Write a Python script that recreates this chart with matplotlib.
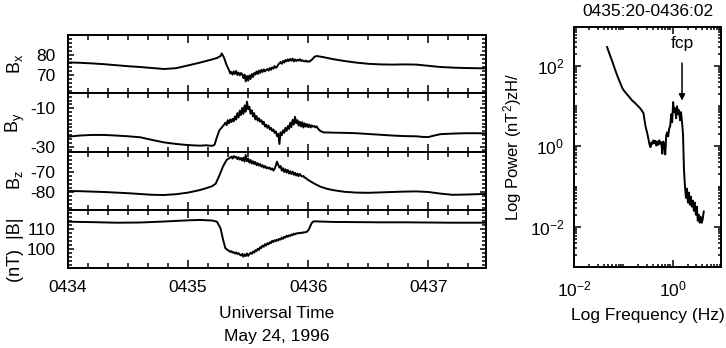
import numpy as np
import matplotlib
matplotlib.use("Agg")
import matplotlib.pyplot as plt
from matplotlib.ticker import MultipleLocator, FixedLocator, LogLocator, NullFormatter, FixedFormatter

plt.rcParams['font.family'] = ['Liberation Sans', 'DejaVu Sans']
plt.rcParams['mathtext.fontset'] = 'custom'
plt.rcParams['mathtext.rm'] = 'Liberation Sans'
plt.rcParams['mathtext.it'] = 'Liberation Sans:italic'
plt.rcParams['mathtext.bf'] = 'Liberation Sans:bold'

# ---------------- data (time in minutes after 04:34 UT) ----------------
bx_t = [0, 0.1, 0.2, 0.3, 0.4, 0.5, 0.6, 0.7, 0.8, 0.9, 1.0, 1.1, 1.15, 1.2, 1.24, 1.27, 1.28, 1.30, 1.32, 1.34, 1.35,
        1.36, 1.37, 1.38, 1.39, 1.40, 1.41, 1.42, 1.43, 1.44, 1.45,
        1.46, 1.47, 1.48, 1.49, 1.50, 1.51, 1.52, 1.53, 1.54, 1.55,
        1.56, 1.57, 1.58, 1.59, 1.60, 1.61, 1.62, 1.63, 1.64, 1.65,
        1.66, 1.67, 1.68, 1.69, 1.70, 1.71, 1.72, 1.73, 1.74, 1.75,
        1.76, 1.77, 1.78, 1.79, 1.80, 1.81, 1.82, 1.83, 1.84, 1.85,
        1.86, 1.87, 1.88, 1.89, 1.90, 1.91, 1.92, 1.93, 1.94, 1.95,
        1.96, 1.97, 1.98, 1.99, 2.00, 2.01, 2.02, 2.03, 2.04, 2.05,
        2.06, 2.07, 2.08,
        2.12, 2.2, 2.3, 2.4, 2.5, 2.6, 2.7, 2.8, 2.9, 3.0, 3.1, 3.2, 3.3, 3.4, 3.48]
bx_v = [76.3, 76.1, 75.8, 75.4, 74.9, 74.4, 74.0, 73.5, 73.0, 73.4, 74.8, 76.2, 77.0, 77.8, 78.5, 79.5, 80.8, 78.5, 75.0, 72.5, 70.8,
        71.5, 70.2, 71.8, 70.5, 72.0, 70.0, 71.2, 69.8, 71.0, 70.4,
        68.5, 70.2, 66.8, 69.5, 67.2, 69.8, 68.0, 70.5, 69.0, 71.0,
        70.2, 71.8, 70.5, 72.2, 71.0, 72.6, 71.5, 72.8, 71.8, 72.5,
        73.0, 72.2, 73.5, 72.6, 73.8, 73.2, 74.5, 73.6, 74.0, 75.2,
        75.8, 76.5, 75.6, 77.0, 76.2, 77.5, 76.8, 77.8, 77.0, 78.0,
        77.2, 78.2, 76.8, 77.8, 77.0, 77.6, 77.2, 77.9, 77.0, 77.4,
        77.0, 76.8, 77.2, 76.6, 76.9, 76.7, 77.2, 77.6, 78.3, 79.0,
        79.3, 79.5, 79.4,
        79.0, 78.0, 77.0, 76.2, 75.6, 75.3, 75.2, 75.3, 75.2, 74.6, 74.0, 73.7, 73.5, 73.4, 73.3]

by_t = [0, 0.1, 0.2, 0.3, 0.4, 0.5, 0.6, 0.7, 0.8, 0.9, 1.0, 1.1, 1.15, 1.2, 1.22, 1.24, 1.26, 1.28, 1.30,
        1.31, 1.32, 1.33, 1.34, 1.35, 1.36, 1.37, 1.38, 1.39, 1.40,
        1.41, 1.42, 1.43, 1.44, 1.45, 1.46, 1.47, 1.48, 1.49, 1.50,
        1.51, 1.52, 1.53, 1.54, 1.55, 1.56, 1.57, 1.58, 1.59, 1.60,
        1.61, 1.62, 1.63, 1.64, 1.65, 1.66, 1.67, 1.68, 1.69, 1.70,
        1.71, 1.72, 1.73, 1.74, 1.75, 1.76, 1.77, 1.78, 1.79, 1.80,
        1.81, 1.82, 1.83, 1.84, 1.85, 1.86, 1.87, 1.88, 1.89, 1.90,
        1.91, 1.92, 1.93, 1.94, 1.95, 1.96, 1.97, 1.98, 1.99, 2.00,
        2.01, 2.02, 2.03, 2.04, 2.05, 2.06, 2.07, 2.08, 2.10, 2.13,
        2.17, 2.2, 2.3, 2.4, 2.5, 2.6, 2.7, 2.8, 2.9, 2.95, 3.0, 3.05, 3.1, 3.2, 3.3, 3.4, 3.48]
by_v = [-24.8, -24.2, -23.9, -23.9, -24.2, -24.6, -25.1, -26.5, -27.8, -28.6, -29.2, -29.5, -29.3, -29.6, -29.0, -25.0, -21.5, -20.0, -18.5,
        -17.5, -18.8, -16.2, -17.8, -15.8, -17.2, -15.5, -16.8, -14.2, -15.9,
        -12.5, -14.8, -11.2, -13.5, -9.8, -12.9, -8.5, -11.8, -6.5, -10.5,
        -9.2, -12.8, -11.0, -14.2, -12.5, -15.8, -14.0, -16.5, -15.2, -17.0,
        -16.2, -18.2, -17.0, -19.5, -18.6, -20.2, -19.0, -21.0, -20.2, -21.8,
        -21.0, -22.8, -22.0, -24.5, -23.2, -28.6, -22.5, -24.0, -21.5, -22.8,
        -20.2, -21.8, -19.2, -20.8, -17.5, -19.8, -16.0, -18.5, -14.4, -17.8,
        -16.2, -19.0, -17.0, -19.5, -17.2, -20.0, -17.8, -19.6, -18.2, -19.8,
        -18.5, -20.0, -18.9, -19.6, -19.2, -20.0, -19.4, -20.5, -21.8, -22.6,
        -22.6, -22.7, -22.8, -23.0, -23.4, -23.8, -24.2, -24.5, -24.6, -24.9, -25.0, -24.2, -23.5, -23.2, -23.0, -23.0, -23.1]

bz_t = [0, 0.1, 0.2, 0.3, 0.4, 0.5, 0.6, 0.7, 0.8, 0.9, 1.0, 1.1, 1.15, 1.2, 1.23, 1.26, 1.29, 1.32, 1.35,
        1.36, 1.37, 1.38, 1.39, 1.40, 1.41, 1.42, 1.43, 1.44, 1.45,
        1.46, 1.47, 1.48, 1.49, 1.50, 1.51, 1.52, 1.53, 1.54, 1.55,
        1.56, 1.57, 1.58, 1.59, 1.60, 1.61, 1.62, 1.63, 1.64, 1.65,
        1.66, 1.67, 1.68, 1.69, 1.70, 1.71, 1.72, 1.73, 1.74, 1.75,
        1.76, 1.77, 1.78, 1.79, 1.80, 1.81, 1.82, 1.83, 1.84, 1.85,
        1.86, 1.87, 1.88, 1.89, 1.90, 1.91, 1.92, 1.93, 1.94, 1.95,
        1.96, 1.97, 1.98, 1.99, 2.00,
        2.05, 2.1, 2.15, 2.2, 2.3, 2.4, 2.5, 2.6, 2.7, 2.8, 2.9, 3.0, 3.1, 3.2, 3.3, 3.4, 3.48]
bz_v = [-79.7, -79.8, -80.0, -80.2, -80.5, -80.8, -81.2, -81.6, -81.7, -81.3, -80.5, -79.2, -78.3, -77.3, -76.0, -72.0, -67.5, -64.2, -63.0,
        -62.5, -63.5, -62.2, -63.0, -62.6, -63.8, -62.8, -64.0, -63.2, -64.5,
        -63.0, -65.0, -61.7, -64.8, -63.5, -65.5, -64.2, -66.0, -64.8, -66.2,
        -65.2, -66.8, -65.8, -67.0, -66.2, -67.5, -66.8, -68.0, -67.2, -68.3,
        -67.8, -68.5, -68.0, -69.0, -68.4, -69.5, -68.6, -67.0, -65.0, -66.5,
        -68.0, -67.2, -69.5, -68.3, -70.2, -68.8, -70.5, -69.2, -71.0, -69.8,
        -71.2, -70.0, -71.6, -70.6, -72.0, -71.0, -72.3, -71.2, -72.0, -72.5,
        -72.2, -73.0, -73.2, -73.8, -74.2,
        -76.0, -77.5, -78.5, -79.2, -80.1, -80.5, -80.6, -80.4, -80.2, -80.0, -79.9, -80.2, -81.0, -81.6, -81.5, -81.3, -81.2]

bt_t = [0, 0.2, 0.4, 0.6, 0.8, 1.0, 1.1, 1.2, 1.24, 1.27, 1.29, 1.31, 1.33,
        1.34, 1.35, 1.36, 1.37, 1.38, 1.39, 1.40, 1.41, 1.42, 1.43,
        1.44, 1.45, 1.46, 1.47, 1.48, 1.49, 1.50, 1.51, 1.52, 1.53,
        1.54, 1.55, 1.56, 1.57, 1.58, 1.59, 1.60, 1.61, 1.62, 1.63,
        1.64, 1.65, 1.66, 1.67, 1.68, 1.69, 1.70, 1.71, 1.72, 1.73,
        1.74, 1.75, 1.76, 1.77, 1.78, 1.79, 1.80, 1.81, 1.82, 1.83,
        1.84, 1.85, 1.86, 1.87, 1.88, 1.89, 1.90, 1.91, 1.92, 1.93,
        1.94, 1.95, 1.96, 1.97, 1.98, 1.99, 2.00, 2.01, 2.02, 2.03, 2.04, 2.05,
        2.1, 2.2, 2.4, 2.6, 2.8, 3.0, 3.2, 3.4, 3.48]
bt_v = [113.8, 113.6, 113.3, 113.4, 113.9, 114.5, 114.7, 114.4, 113.8, 110.5, 105.0, 100.5, 99.5,
        99.2, 98.6, 99.0, 98.2, 98.5, 97.8, 98.3, 97.5, 98.0, 97.2,
        96.8, 97.6, 96.2, 97.4, 96.5, 97.8, 96.6, 97.5, 98.2, 97.6,
        98.8, 98.2, 99.5, 99.0, 100.2, 99.6, 101.0, 100.6, 101.8, 101.2,
        102.5, 101.8, 103.0, 102.4, 103.5, 103.0, 104.2, 103.6, 104.5, 104.0,
        104.8, 104.3, 105.2, 104.8, 105.8, 105.2, 106.2, 105.8, 106.8, 106.2,
        107.0, 106.6, 107.4, 107.0, 107.8, 107.4, 108.0, 107.8, 108.2, 108.0,
        108.3, 108.1, 108.5, 108.4, 108.6, 108.8, 109.5, 110.5, 112.0, 113.2, 113.8, 114.0,
        113.9, 113.7, 113.6, 113.5, 113.5, 113.4, 113.3, 113.3, 113.3]

time_ticks = [0, 1, 2, 3]
time_labels = ['0434', '0435', '0436', '0437']

log_freq = [-1.33, -1.28, -1.22, -1.17, -1.12, -1.07, -1.02, -0.99, -0.95, -0.90, -0.86, -0.82, -0.78, -0.74, -0.70,
            -0.66, -0.62, -0.59, -0.57, -0.55, -0.52, -0.49, -0.47, -0.45, -0.43, -0.41, -0.39, -0.37, -0.35, -0.33,
            -0.31, -0.29, -0.27, -0.25, -0.23, -0.21, -0.19, -0.17, -0.15, -0.13, -0.11, -0.09, -0.07, -0.05, -0.03,
            -0.01, 0.01, 0.03, 0.05, 0.07, 0.09, 0.11, 0.13, 0.15, 0.17, 0.19, 0.21, 0.23, 0.25, 0.27, 0.29, 0.31,
            0.33, 0.35, 0.37, 0.39, 0.41, 0.43, 0.45, 0.47, 0.49, 0.51, 0.53, 0.55, 0.57, 0.59, 0.61, 0.63]
log_power = [2.47, 2.30, 2.10, 1.92, 1.75, 1.60, 1.45, 1.39, 1.33, 1.26, 1.20, 1.14, 1.10, 1.05, 1.00,
             0.95, 0.88, 0.82, 0.65, 0.50, 0.35, 0.18, 0.05, -0.02, 0.10, 0.06, 0.15, 0.08, 0.14, 0.02,
             0.12, 0.04, 0.15, 0.07, 0.10, -0.18, 0.12, 0.02, -0.20, 0.28, 0.35, 0.25, 0.45, 0.50, 0.80,
             0.60, 1.10, 0.85, 0.95, 0.70, 1.00, 0.80, 0.90, 0.65, 0.85, 0.60, 0.30, -0.60, -1.00, -1.28, -1.05, -1.40,
             -1.15, -1.45, -1.25, -1.50, -1.35, -1.60, -1.40, -1.70, -1.50, -1.85, -1.70, -1.90, -1.75, -1.90, -1.80, -1.62]

fcp_log_freq = 0.19

# ---------------- figure ----------------
W, H = 726, 348
fig = plt.figure(figsize=(W / 100, H / 100), dpi=100)

def fx(px):
    return px / W

def fy(py):
    return 1 - py / H

left_px, right_px = 68, 486
panel_edges = [35, 93, 152, 210, 268]
series = [(bx_t, bx_v, (61, 90), [70, 80], ['70', '80']),
          (by_t, by_v, (-32.8, -2), [-30, -10], ['-30', '-10']),
          (bz_t, bz_v, (-89.2, -60.2), [-80, -70], ['-80', '-70']),
          (bt_t, bt_v, (90.5, 119.7), [100, 110], ['100', '110'])]

TICK_FS = 12.5
LABEL_FS = 12.5

for i, (t, v, ylim, yt, ytl) in enumerate(series):
    top, bot = panel_edges[i], panel_edges[i + 1]
    ax = fig.add_axes([fx(left_px), fy(bot), fx(right_px - left_px), (bot - top) / H])
    ax.plot(t, v, color='black', lw=1.4)
    ax.set_xlim(0, 3.48)
    ax.set_ylim(*ylim)
    ax.xaxis.set_major_locator(FixedLocator(time_ticks))
    ax.xaxis.set_minor_locator(MultipleLocator(1 / 6))
    ax.yaxis.set_major_locator(FixedLocator(yt))
    ax.yaxis.set_major_formatter(FixedFormatter(ytl))
    ax.yaxis.set_minor_locator(MultipleLocator(2))
    ax.tick_params(which='both', direction='in', top=True, right=True, width=1.1)
    ax.tick_params(axis='x', which='major', length=6)
    ax.tick_params(axis='x', which='minor', length=3.5)
    ax.tick_params(axis='y', which='major', length=4)
    ax.tick_params(axis='y', which='minor', length=3)
    ax.tick_params(axis='y', labelsize=TICK_FS, pad=9)
    if i < 3:
        ax.tick_params(axis='x', labelbottom=False)
    else:
        ax.set_xticklabels(time_labels)
        ax.tick_params(axis='x', labelsize=TICK_FS, pad=9)
    for s in ax.spines.values():
        s.set_linewidth(1.4)

# panel labels
fig.text(fx(15), fy(64), r'$\mathregular{B_x}$', rotation=90, ha='center', va='center', fontsize=13)
fig.text(fx(15), fy(123), r'$\mathregular{B_y}$', rotation=90, ha='center', va='center', fontsize=13)
fig.text(fx(15), fy(180), r'$\mathregular{B_z}$', rotation=90, ha='center', va='center', fontsize=13)
fig.text(fx(15), fy(250), '(nT)  |B|', rotation=90, ha='center', va='center', fontsize=13)

fig.text(fx(277), fy(313), 'Universal Time', ha='center', va='center', fontsize=LABEL_FS)
fig.text(fx(277), fy(337), 'May 24, 1996', ha='center', va='center', fontsize=LABEL_FS)

# spectrum panel
sx0, sx1, sy0, sy1 = 574, 721, 27, 267
axs = fig.add_axes([fx(sx0), fy(sy1), fx(sx1 - sx0), (sy1 - sy0) / H])
axs.plot(10 ** np.array(log_freq), 10 ** np.array(log_power), color='black', lw=1.4)
axs.set_xscale('log')
axs.set_yscale('log')
axs.set_xlim(1e-2, 10 ** 0.98)
axs.set_ylim(10 ** -3.0, 10 ** 2.97)
axs.xaxis.set_major_locator(FixedLocator([1e-2, 1e0]))
axs.yaxis.set_major_locator(FixedLocator([1e-2, 1e0, 1e2]))
axs.xaxis.set_major_formatter(FixedFormatter([r'$\mathregular{10^{-2}}$', r'$\mathregular{10^{0}}$']))
axs.yaxis.set_major_formatter(FixedFormatter([r'$\mathregular{10^{-2}}$', r'$\mathregular{10^{0}}$', r'$\mathregular{10^{2}}$']))
axs.xaxis.set_minor_locator(LogLocator(base=10, subs=np.arange(1, 10), numticks=50))
axs.yaxis.set_minor_locator(LogLocator(base=10, subs=np.arange(1, 10), numticks=50))
axs.xaxis.set_minor_formatter(NullFormatter())
axs.yaxis.set_minor_formatter(NullFormatter())
axs.tick_params(which='both', direction='in', top=True, right=True, width=1.1)
axs.tick_params(which='major', length=5)
axs.tick_params(which='minor', length=2.5)
axs.tick_params(axis='x', labelsize=TICK_FS, pad=9)
axs.tick_params(axis='y', labelsize=TICK_FS, pad=7)
for s in axs.spines.values():
    s.set_linewidth(1.4)
axs.set_title('0435:20-0436:02', fontsize=LABEL_FS, pad=8)
axs.set_xlabel('Log Frequency (Hz)', fontsize=LABEL_FS, labelpad=6)
axs.set_ylabel(r'Log Power (nT$\mathregular{^2}$)zH/', fontsize=12, labelpad=4)

axs.annotate('fcp', xy=(10 ** fcp_log_freq, 10 ** 1.14), xytext=(10 ** fcp_log_freq, 10 ** 2.57),
             ha='center', va='center', fontsize=LABEL_FS,
             arrowprops=dict(arrowstyle='-|>', color='black', lw=1.1, mutation_scale=9, shrinkA=7, shrinkB=0))

fig.savefig('out.png', dpi=100)
